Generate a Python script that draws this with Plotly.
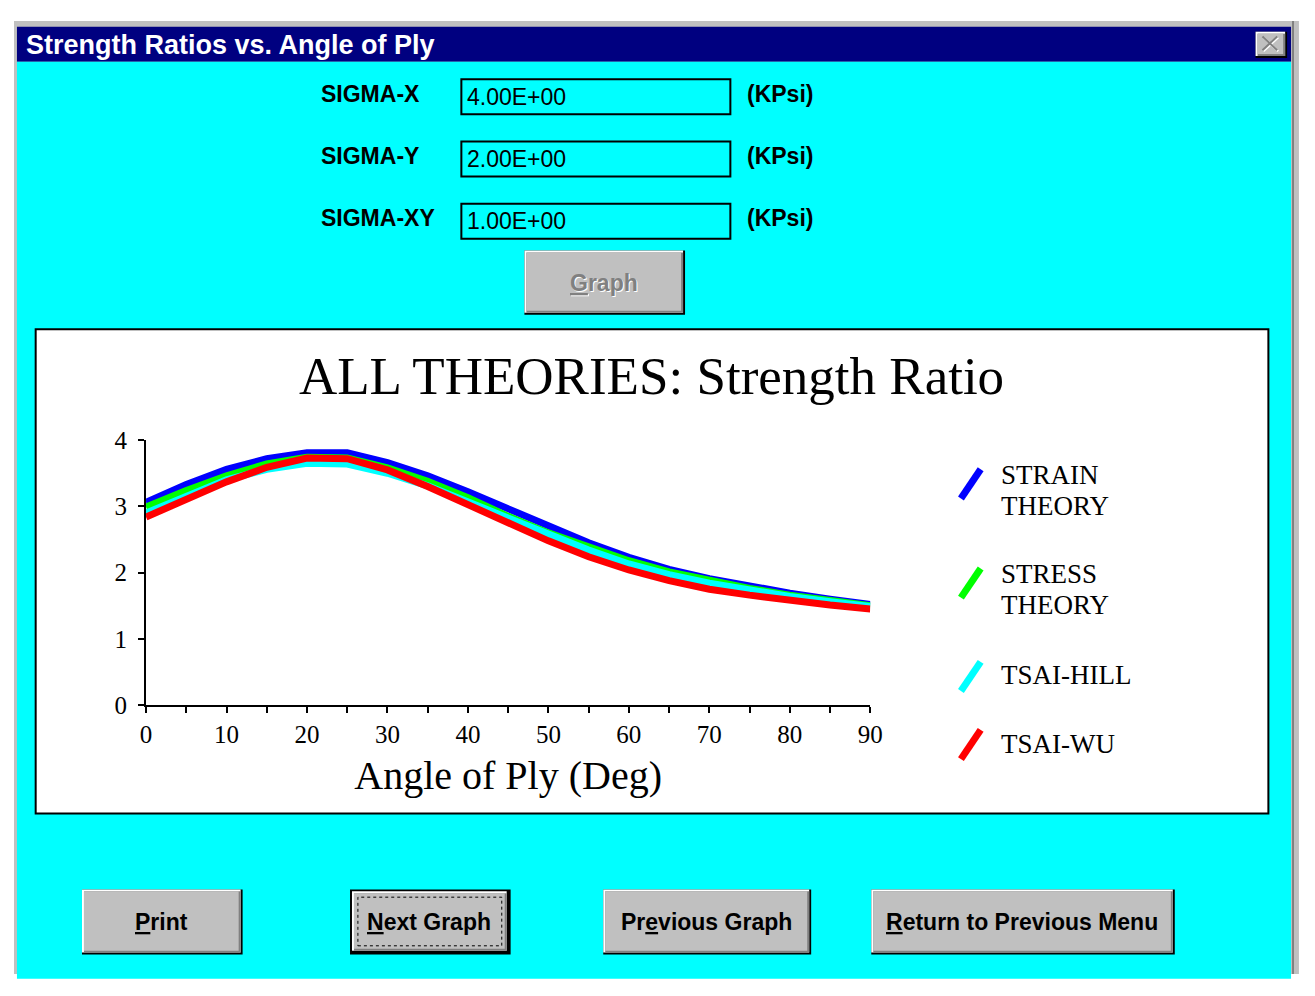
import plotly.graph_objects as go

# ---------------- data ----------------
angles = [0, 5, 10, 15, 20, 25, 30, 35, 40, 45, 50, 55, 60, 65, 70, 75, 80, 85, 90]
strain_theory = [3.06, 3.33, 3.56, 3.72, 3.81, 3.81, 3.66, 3.46, 3.22, 2.96, 2.70, 2.45, 2.23, 2.05, 1.91, 1.79, 1.69, 1.60, 1.52]
stress_theory = [2.99, 3.24, 3.46, 3.64, 3.74, 3.73, 3.58, 3.38, 3.13, 2.85, 2.60, 2.38, 2.18, 2.01, 1.88, 1.76, 1.66, 1.57, 1.50]
tsai_hill = [2.90, 3.15, 3.40, 3.56, 3.65, 3.64, 3.50, 3.31, 3.07, 2.82, 2.58, 2.34, 2.13, 1.97, 1.84, 1.73, 1.64, 1.56, 1.49]
tsai_wu = [2.84, 3.10, 3.37, 3.59, 3.73, 3.72, 3.55, 3.30, 3.02, 2.74, 2.48, 2.24, 2.04, 1.88, 1.75, 1.66, 1.58, 1.51, 1.45]

series_names = ["STRAIN<br>THEORY", "STRESS<br>THEORY", "TSAI-HILL", "TSAI-WU"]
series_colors = ["#0000ff", "#00ff00", "#00ffff", "#ff0000"]

x_tick_vals = [0, 10, 20, 30, 40, 50, 60, 70, 80, 90]
y_tick_vals = [0, 1, 2, 3, 4]

window_title = "Strength Ratios vs. Angle of Ply"
chart_title = "ALL THEORIES: Strength Ratio"
x_title = "Angle of Ply (Deg)"

sigma_labels = ["SIGMA-X", "SIGMA-Y", "SIGMA-XY"]
sigma_values = ["4.00E+00", "2.00E+00", "1.00E+00"]
sigma_units = ["(KPsi)", "(KPsi)", "(KPsi)"]

button_labels = ["<u>P</u>rint", "<u>N</u>ext Graph", "Pr<u>e</u>vious Graph", "<u>R</u>eturn to Previous Menu"]

# ---------------- layout helpers ----------------
# page body has an 8px default margin; size the figure so it fits the window
OFF = 8
W, H = 1315 - 2 * OFF, 996 - 2 * OFF


def X(px):
    return (px - OFF) / W


def Y(py):
    return 1 - (py - OFF) / H


shapes = []
annotations = []


def rect(x0, y0, x1, y1, fill=None, line_color=None, lw=0, dash=None, layer="below"):
    d = dict(type="rect", xref="paper", yref="paper",
             x0=X(x0), x1=X(x1), y0=Y(y1), y1=Y(y0), layer=layer,
             line=dict(width=lw, color=line_color or "rgba(0,0,0,0)"))
    if dash:
        d["line"]["dash"] = dash
    if fill:
        d["fillcolor"] = fill
    shapes.append(d)


def seg(x0, y0, x1, y1, color, lw, layer="above"):
    shapes.append(dict(type="line", xref="paper", yref="paper",
                       x0=X(x0), x1=X(x1), y0=Y(y0), y1=Y(y1), layer=layer,
                       line=dict(width=lw, color=color)))


def text(x, y, s, size, color="black", family="Liberation Sans", xanchor="left", bold=False):
    if bold:
        s = "<b>" + s + "</b>"
    annotations.append(dict(x=X(x), y=Y(y), xref="paper", yref="paper", text=s,
                            showarrow=False, xanchor=xanchor, yanchor="middle",
                            font=dict(size=size, color=color, family=family)))


def button(x0, y0, x1, y1, default=False):
    if default:
        rect(x0, y0, x1, y1, fill="#000000")
        x0, y0, x1, y1 = x0 + 2, y0 + 2, x1 - 2, y1 - 2
    rect(x0, y0, x1, y1, fill="#000000")
    rect(x0, y0, x1 - 2, y1 - 2, fill="#ffffff")
    rect(x0 + 2, y0 + 2, x1 - 2, y1 - 2, fill="#808080")
    rect(x0 + 2, y0 + 2, x1 - 4, y1 - 4, fill="#c0c0c0")


# window frame
rect(OFF, OFF, 1312, 996 - OFF, fill="#c0c0c0")
rect(1305, OFF, 1307, 996 - OFF, fill="#808080")
rect(11, 14, 1304, 50, fill="#000080")
rect(11, 50, 1304, 993, fill="#00ffff")
text(18, 33, window_title, 27, color="white", bold=True)

# close button
rect(1268, 19, 1300, 46, fill="#000000")
rect(1268, 19, 1298, 44, fill="#ffffff")
rect(1270, 21, 1298, 44, fill="#808080")
rect(1270, 21, 1296, 42, fill="#c0c0c0")
seg(1276, 25, 1291, 39, "#ffffff", 2)
seg(1276, 39, 1291, 25, "#ffffff", 2)
seg(1275, 24, 1290, 38, "#808080", 2)
seg(1275, 38, 1290, 24, "#808080", 2)

# input rows
row_y = [83, 147, 211]
for lab, val, unit, yy in zip(sigma_labels, sigma_values, sigma_units, row_y):
    text(318, yy, lab, 23, bold=True)
    rect(462, yy - 15, 735, yy + 21, line_color="#000000", lw=2)
    text(466, yy + 3, val, 23, color="#000000", family="Liberation Sans")
    text(750, yy, unit, 23, bold=True)

# disabled Graph button
button(526, 244, 689, 310)
text(608, 278, "<u>G</u>raph", 23, color="#ffffff", xanchor="center", bold=True)
text(607, 277, "<u>G</u>raph", 23, color="#808080", xanchor="center", bold=True)

# chart panel
rect(30, 325, 1281, 823, fill="#ffffff", line_color="#000000", lw=2)

# bottom buttons
btns = [(77, 901, 240, 968, False), (349, 901, 512, 968, True),
        (606, 901, 817, 968, False), (878, 901, 1186, 968, False)]
for (bx0, by0, bx1, by1, dflt), lab in zip(btns, button_labels):
    button(bx0, by0, bx1, by1, default=dflt)
    text((bx0 + bx1) / 2 - 1, (by0 + by1) / 2, lab, 23, xanchor="center", bold=True)
    if dflt:
        rect(bx0 + 8, by0 + 8, bx1 - 9, by1 - 9, line_color="#000000", lw=1, dash="dot", layer="above")

# legend (manual, slanted strokes)
legend_y = [(475, 507), (577, 609), (681, None), (751, None)]
for name, col, (ly1, ly2) in zip(series_names, series_colors, legend_y):
    parts = name.split("<br>")
    ymid = ly1 if ly2 is None else (ly1 + ly2) / 2 - 8
    seg(969, ymid + 16, 989, ymid - 14, col, 7)
    text(1008, ly1, parts[0], 27, family="Liberation Serif")
    if ly2 is not None:
        text(1008, ly2, parts[1], 27, family="Liberation Serif")

# ---------------- traces ----------------
fig = go.Figure()
for name, col, vals in zip(series_names, series_colors,
                           [strain_theory, stress_theory, tsai_hill, tsai_wu]):
    fig.add_trace(go.Scatter(x=angles, y=vals, mode="lines", name=name.replace("<br>", " "),
                             line=dict(color=col, width=7, shape="linear"),
                             showlegend=False, hoverinfo="skip"))

x0p, x1p, ytop, ybot = 142, 877, 439, 711.5
fig.update_layout(
    width=W, height=H, autosize=False,
    margin=dict(l=0, r=0, t=0, b=0),
    paper_bgcolor="#ffffff",
    plot_bgcolor="rgba(0,0,0,0)",
    shapes=shapes,
    annotations=annotations,
    title=dict(text=chart_title, x=X(655), y=Y(372), xanchor="center", yanchor="middle",
               xref="paper", yref="paper",
               font=dict(family="Liberation Serif", size=53, color="black")),
    xaxis=dict(domain=[X(x0p), X(x1p)], range=[0, 90], showgrid=False, zeroline=False,
               showline=True, linecolor="black", linewidth=2,
               tickmode="array", tickvals=x_tick_vals, ticktext=[str(v) for v in x_tick_vals],
               ticks="outside", ticklen=6, tickwidth=2, tickcolor="black",
               minor=dict(dtick=5, ticks="outside", ticklen=6, tickwidth=2, tickcolor="black"),
               tickfont=dict(family="Liberation Serif", size=25, color="black"),
               title=dict(text=x_title, standoff=14,
                          font=dict(family="Liberation Serif", size=40, color="black"))),
    yaxis=dict(domain=[Y(ybot), Y(ytop)], range=[0, 4], showgrid=False, zeroline=False,
               showline=True, linecolor="black", linewidth=2,
               tickmode="array", tickvals=y_tick_vals, ticktext=[str(v) for v in y_tick_vals],
               ticks="outside", ticklen=6, tickwidth=2, tickcolor="black", ticklabelstandoff=6,
               tickfont=dict(family="Liberation Serif", size=25, color="black")),
)

fig.write_html("out.html")
